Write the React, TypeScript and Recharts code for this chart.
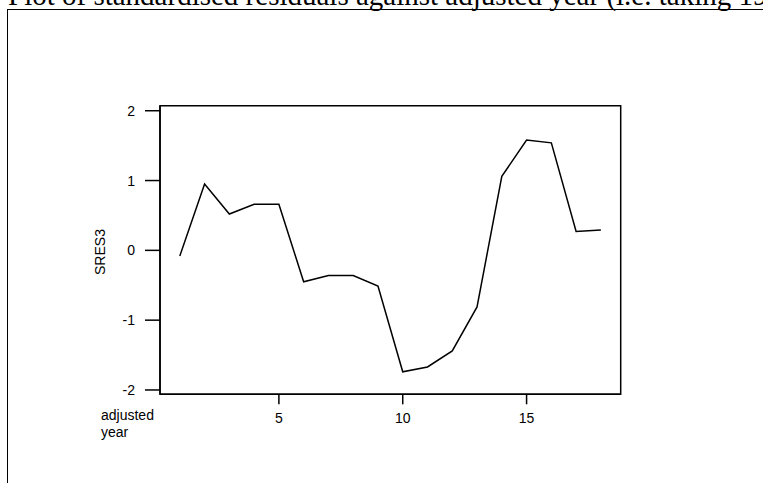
import { LineChart, Line, XAxis, YAxis, ReferenceArea } from 'recharts';

const years = [1, 2, 3, 4, 5, 6, 7, 8, 9, 10, 11, 12, 13, 14, 15, 16, 17, 18];
const sres3 = [-0.08, 0.95, 0.52, 0.66, 0.66, -0.45, -0.36, -0.36, -0.51, -1.74, -1.67, -1.44, -0.81, 1.06, 1.58, 1.54, 0.27, 0.29];
const xTicks = [5, 10, 15];
const yTicks = [-2, -1, 0, 1, 2];

const data = years.map((y, i) => ({ year: y, sres: sres3[i] }));

const xDomain: [number, number] = [0.2, 18.8];
const yDomain: [number, number] = [-2.062, 2.072];

const axisFont = { fontFamily: 'Liberation Sans, Arial, sans-serif', fontSize: 14, fill: '#000' };

export default function App() {
  return (
    <div style={{ position: 'absolute', left: 0, top: 0, width: 763, height: 483, overflow: 'hidden', background: '#fff' }}>
      <div
        style={{
          position: 'absolute',
          left: 8,
          top: -19,
          whiteSpace: 'nowrap',
          fontFamily: '"Liberation Serif", "Times New Roman", serif',
          fontSize: 29,
          lineHeight: '29px',
        }}
      >
        Plot of standardised residuals against adjusted year (i.e. taking 1987 as year 1)
      </div>
      <div
        style={{
          position: 'absolute',
          left: 7,
          top: 9,
          width: 900,
          height: 700,
          border: '1.5px solid #000',
        }}
      />
      <div style={{ position: 'absolute', left: 0, top: 0 }}>
        <LineChart width={763} height={483} data={data} margin={{ top: 105.7, right: 142.3, bottom: 58.7, left: 100 }}>
          <XAxis
            dataKey="year"
            type="number"
            domain={xDomain}
            ticks={xTicks}
            height={30}
            tickSize={10}
            tickMargin={9}
            tick={axisFont}
            axisLine={{ stroke: '#000', strokeWidth: 1.5 }}
            tickLine={{ stroke: '#000', strokeWidth: 1.5 }}
            label={({ viewBox }: any) => (
              <text x={viewBox.x - 59} y={viewBox.y + 26} style={axisFont} fill="#000">
                <tspan x={viewBox.x - 59} dy={0}>adjusted</tspan>
                <tspan x={viewBox.x - 59} dy={17}>year</tspan>
              </text>
            )}
          />
          <YAxis
            type="number"
            domain={yDomain}
            ticks={yTicks}
            width={60}
            tickSize={15}
            tickMargin={10}
            tick={axisFont}
            axisLine={{ stroke: '#000', strokeWidth: 1.5 }}
            tickLine={{ stroke: '#000', strokeWidth: 1.5 }}
            label={({ viewBox }: any) => {
              const cx = viewBox.x;
              const cy = viewBox.y + viewBox.height / 2 + 2;
              return (
                <text x={cx} y={cy} transform={`rotate(-90 ${cx} ${cy})`} textAnchor="middle" dominantBaseline="central" style={axisFont} fill="#000">
                  SRES3
                </text>
              );
            }}
          />
          <ReferenceArea
            x1={xDomain[0]}
            x2={xDomain[1]}
            y1={yDomain[0]}
            y2={yDomain[1]}
            fill="none"
            fillOpacity={0}
            stroke="#000"
            strokeWidth={1.5}
            ifOverflow="visible"
          />
          <Line
            type="linear"
            dataKey="sres"
            stroke="#000"
            strokeWidth={1.5}
            dot={false}
            isAnimationActive={false}
          />
        </LineChart>
      </div>
    </div>
  );
}
